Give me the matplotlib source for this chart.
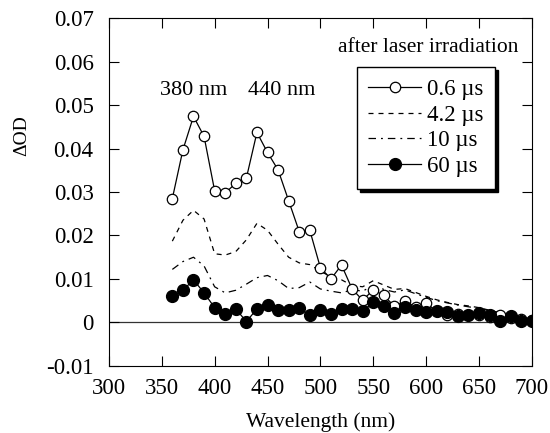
# spectra after laser irradiation
import matplotlib
matplotlib.use('Agg')
import matplotlib.pyplot as plt

# data
wl = [360, 370, 380, 390, 400, 410, 420, 430, 440, 450, 460, 470, 480, 490, 500,
      510, 520, 530, 540, 550, 560, 570, 580, 590, 600, 610, 620, 630, 640, 650,
      660, 670, 680, 690, 700]

od_06us = [0.0285, 0.0397, 0.0474, 0.0428, 0.0303, 0.0298, 0.0320, 0.0332, 0.0437, 0.0391,
           0.0351, 0.0280, 0.0209, 0.0212, 0.0126, 0.0100, 0.0132, 0.0077, 0.0051, 0.0075,
           0.0062, 0.0037, 0.0049, 0.0036, 0.0044, 0.0026, 0.0018, 0.0020, 0.0016, 0.0017,
           0.0013, 0.0017, 0.0010, 0.0008, 0.0005]

od_42us = [0.0187, 0.0235, 0.0258, 0.0238, 0.0158, 0.0155, 0.0163, 0.0190, 0.0228, 0.0212,
           0.0180, 0.0150, 0.0137, 0.0133, 0.0118, 0.0105, 0.0098, 0.0085, 0.0082, 0.0096,
           0.0086, 0.0076, 0.0078, 0.0069, 0.0060, 0.0052, 0.0046, 0.0041, 0.0038, 0.0034,
           0.0028, 0.0022, 0.0016, 0.0010, 0.0008]

od_10us = [0.0122, 0.0140, 0.0150, 0.0130, 0.0082, 0.0068, 0.0074, 0.0088, 0.0103, 0.0108,
           0.0096, 0.0078, 0.0080, 0.0093, 0.0077, 0.0072, 0.0068, 0.0075, 0.0072, 0.0085,
           0.0076, 0.0070, 0.0075, 0.0066, 0.0058, 0.0050, 0.0045, 0.0040, 0.0036, 0.0032,
           0.0027, 0.0022, 0.0016, 0.0010, 0.0006]

od_60us = [0.0060, 0.0074, 0.0098, 0.0068, 0.0034, 0.0020, 0.0031, 0.0002, 0.0031, 0.0039,
           0.0028, 0.0029, 0.0033, 0.0016, 0.0028, 0.0020, 0.0030, 0.0031, 0.0026, 0.0046,
           0.0038, 0.0022, 0.0036, 0.0029, 0.0023, 0.0027, 0.0025, 0.0015, 0.0016, 0.0022,
           0.0018, 0.0003, 0.0014, 0.0004, 0.0004]

x_ticks = [300, 350, 400, 450, 500, 550, 600, 650, 700]
y_ticks = [-0.01, 0, 0.01, 0.02, 0.03, 0.04, 0.05, 0.06, 0.07]
y_labels = ['-0.01', '0', '0.01', '0.02', '0.03', '0.04', '0.05', '0.06', '0.07']

plt.rcParams['font.family'] = ['Liberation Serif', 'DejaVu Serif']

fig = plt.figure(figsize=(5.5, 4.33), dpi=100)
ax = fig.add_axes([0.198, 0.155, 0.769, 0.803])

ax.axhline(0, color='#333333', lw=0.9, zorder=1)

ax.plot(wl, od_06us, color='black', lw=0.9, marker='o', ms=7.5, mfc='white', mec='black',
        mew=0.9, label='0.6 µs', zorder=3)
ax.plot(wl, od_42us, color='black', lw=0.9, ls=(0, (4, 4)), label='4.2 µs', zorder=2)
ax.plot(wl, od_10us, color='black', lw=0.9, ls=(0, (6, 4, 1.5, 4)), label='10 µs', zorder=2)
ax.plot(wl, od_60us, color='black', lw=0.9, marker='o', ms=8.5, mfc='black', mec='black',
        label='60 µs', zorder=4)

ax.set_xlim(300, 700)
ax.set_ylim(-0.01, 0.07)
ax.set_xticks(x_ticks)
ax.set_yticks(y_ticks)
ax.set_yticklabels(y_labels)
ax.tick_params(direction='in', length=7, width=0.8, top=True, right=True, labelsize=16.5)
ax.tick_params(axis='y', pad=11)
ax.tick_params(axis='x', pad=9)
for s in ax.spines.values():
    s.set_linewidth(0.8)

ax.set_xlabel('Wavelength (nm)', fontsize=15.5, labelpad=9)
ax.set_ylabel('ΔOD', fontsize=14)
ax.yaxis.set_label_coords(-0.187, 0.661)

ax.text(0.967, 0.917, 'after laser irradiation', transform=ax.transAxes,
        ha='right', va='center', fontsize=15.5)
ax.text(380, 0.0533, '380 nm', ha='center', va='center', fontsize=16)
ax.text(463, 0.0533, '440 nm', ha='center', va='center', fontsize=16)

leg = ax.legend(loc='upper left', bbox_to_anchor=(0.586, 0.859), borderaxespad=0,
                fontsize=16.5, handlelength=2.3, handletextpad=0.26, labelspacing=0.21,
                borderpad=0.5, fancybox=False, framealpha=1, edgecolor='black',
                shadow={'color': 'black', 'alpha': 1})
leg.get_frame().set_linewidth(1.0)

plt.savefig('out.png', dpi=100)
